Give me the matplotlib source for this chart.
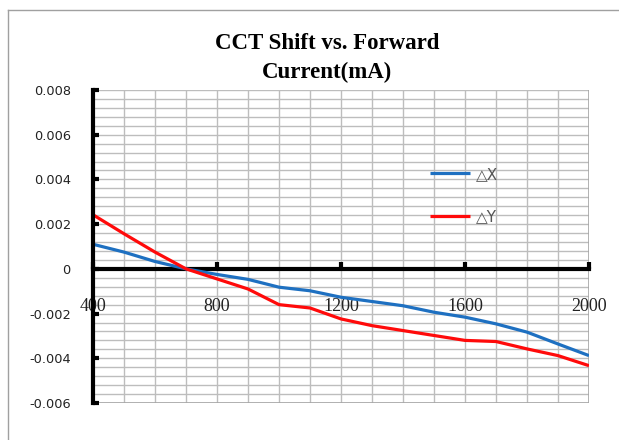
import matplotlib
matplotlib.use("Agg")
import matplotlib.pyplot as plt
from matplotlib.lines import Line2D
import numpy as np

current = [400, 500, 600, 700, 800, 900, 1000, 1100, 1200, 1300, 1400, 1500, 1600, 1700, 1800, 1900, 2000]
delta_x = [0.0011, 0.00075, 0.00033, 0.0, -0.00025, -0.00047, -0.00082, -0.00098, -0.00127, -0.00146, -0.00165, -0.00194, -0.00216, -0.00246, -0.00283, -0.00336, -0.00388]
delta_y = [0.00242, 0.00157, 0.00075, 0.0, -0.00045, -0.0009, -0.0016, -0.00175, -0.00224, -0.00254, -0.00276, -0.00298, -0.0032, -0.00325, -0.00358, -0.00388, -0.00433]
x_ticks = [400, 800, 1200, 1600, 2000]
y_ticks = [-0.006, -0.004, -0.002, 0, 0.002, 0.004, 0.006, 0.008]
y_labels = ["-0.006", "-0.004", "-0.002", "0", "0.002", "0.004", "0.006", "0.008"]
title = "CCT Shift vs. Forward\nCurrent(mA)"
series_names = ["\u25b3X", "\u25b3Y"]

W, H = 619, 440
fig = plt.figure(figsize=(W / 100, H / 100), dpi=100)
ax = fig.add_axes([93 / W, 1 - 403 / H, (589 - 93) / W, (403 - 90) / H])

ax.set_xlim(400, 2000)
ax.set_ylim(-0.006, 0.008)

grid_c = "#BDBDBD"
for gx in np.arange(500, 2000, 100):
    ax.axvline(gx, color=grid_c, lw=1, zorder=0)
for gy in np.arange(-0.006, 0.0080001, 0.0004):
    if abs(gy) > 1e-9:
        ax.axhline(gy, color=grid_c, lw=1, zorder=0)
ax.axvline(2000, color="#A6A6A6", lw=1.2, zorder=0)
ax.axhline(-0.006, color="#A6A6A6", lw=1.2, zorder=0)

l1, = ax.plot(current, delta_x, color="#1E70C1", lw=2.3, zorder=3, solid_capstyle="butt")
l2, = ax.plot(current, delta_y, color="#FF0A0A", lw=2.3, zorder=3, solid_capstyle="butt")

for s in ["top", "right"]:
    ax.spines[s].set_visible(False)
ax.spines["left"].set_linewidth(3)
ax.spines["left"].set_color("black")
ax.spines["bottom"].set_position(("data", 0))
ax.spines["bottom"].set_linewidth(3)
ax.spines["bottom"].set_color("black")
ax.spines["left"].set_zorder(4)
ax.spines["bottom"].set_zorder(2)

ax.set_yticks(y_ticks)
ax.set_yticklabels(y_labels, fontfamily="DejaVu Sans", fontsize=9.3, color="#222222")
ax.tick_params(axis="y", direction="in", length=4, width=3, pad=16)

ax.set_xticks(x_ticks)
ax.set_xticklabels([str(v) for v in x_ticks], fontfamily="Liberation Serif", fontsize=13, color="#222222")
ax.tick_params(axis="x", direction="in", length=5, width=3, pad=21)

fig.text(327 / W, 1 - 58 / H, title, ha="center", va="center",
         fontfamily="Liberation Serif", fontweight="bold", fontsize=16.5, linespacing=1.45)

leg = ax.legend([l1, l2], series_names, loc="upper left",
                bbox_to_anchor=((416 - 93) / (589 - 93), 1 - (153 - 90) / (403 - 90)),
                frameon=False, labelcolor="#555555",
                handlelength=2.65, handletextpad=0.4, labelspacing=1.8,
                prop={"family": "DejaVu Sans", "size": 11})

fig.add_artist(Line2D([8 / W, 1.0], [1 - 10 / H, 1 - 10 / H], transform=fig.transFigure, color="#A0A0A0", lw=1))
fig.add_artist(Line2D([8 / W, 8 / W], [0, 1 - 10 / H], transform=fig.transFigure, color="#A0A0A0", lw=1))

fig.savefig("out.png", dpi=100)
